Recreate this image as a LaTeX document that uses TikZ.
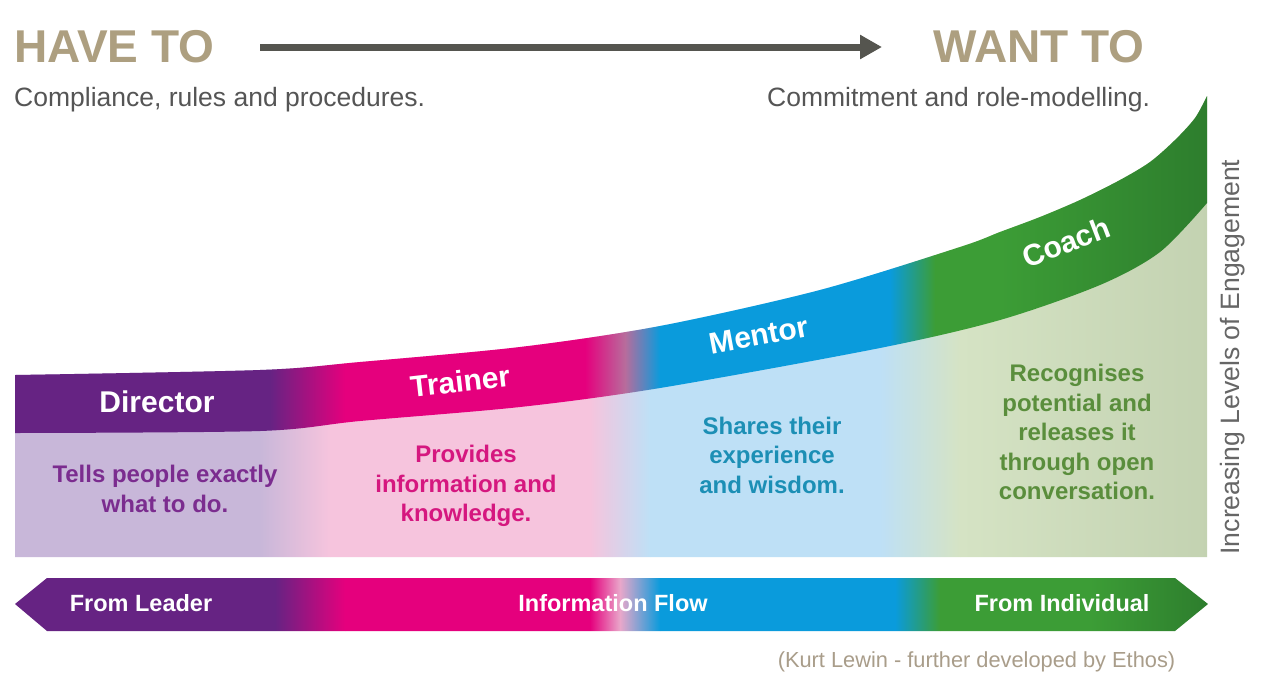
\documentclass[tikz,border=0pt]{standalone}
\usepackage{fontspec}
\setmainfont{Liberation Sans}
\usetikzlibrary{arrows.meta}
\definecolor{cP}{HTML}{662383}
\definecolor{cM}{HTML}{E5007D}
\definecolor{cMB}{HTML}{B86C9C}
\definecolor{cB}{HTML}{0A9BDC}
\definecolor{cG}{HTML}{3C9D36}
\definecolor{cGd}{HTML}{2D7D2D}
\definecolor{cLP}{HTML}{C8B7D9}
\definecolor{cLM}{HTML}{F6C4DD}
\definecolor{cLB}{HTML}{BEE0F6}
\definecolor{cLG}{HTML}{D5E3C4}
\definecolor{cLGd}{HTML}{C3D2B1}
\definecolor{cFP}{HTML}{E9A7CA}
\definecolor{cTan}{HTML}{AD9F80}
\definecolor{cGray}{HTML}{555555}
\definecolor{cArrow}{HTML}{55554F}
\definecolor{cKurt}{HTML}{A99D8A}
\definecolor{cSide}{HTML}{666666}
\definecolor{tP}{HTML}{7B2C8F}
\definecolor{tM}{HTML}{D5177F}
\definecolor{tB}{HTML}{1C8FB5}
\definecolor{tG}{HTML}{5A8E3C}
\tikzset{
  head/.style={font=\bfseries\fontsize{46}{50}\selectfont, text=cTan, inner sep=0, anchor=base west},
  sub/.style={font=\fontsize{26.5}{30}\selectfont, text=cGray, inner sep=0, anchor=base west},
  bandlbl/.style={font=\bfseries\fontsize{30}{34}\selectfont, text=white, inner sep=0},
  desc/.style={font=\bfseries\fontsize{24}{29.5}\selectfont, align=center, inner sep=0},
  flow/.style={font=\bfseries\fontsize{23.5}{26}\selectfont, text=white, inner sep=0},
}
\begin{document}
\begin{tikzpicture}[x=1pt,y=-1pt]
\useasboundingbox (0,0) rectangle (1276,689);
\fill[white] (0,0) rectangle (1276,689);

% headings
\node[head] (have) at (14,62) {HAVE TO};
\node[head] (want) at (933,62) {WANT TO};
\coordinate (ar1) at (260,47);
\coordinate (ar2) at (882,47);
\draw[line width=7pt, color=cArrow, -{Triangle[length=22pt,width=23pt]}] (ar1) -- (ar2);
\node[sub] (comp) at (14,106) {Compliance, rules and procedures.};
\node[sub] (comm) at (767,106) {Commitment and role-modelling.};

% light area
\begin{scope}
\clip plot[smooth,tension=.5] coordinates {(15,375) (260,370) (360,362) (520,347) (660,326) (820,290) (960,247) (1000,232) (1040,217) (1080,200) (1120,180) (1150,162) (1175,140) (1195,118) (1207,96)} -- (1207,557) -- (15,557) -- cycle;
\fill[cLP] (0,80) rectangle (260,560);
\shade[left color=cLP,right color=cLM] (260,80) rectangle (330,560);
\fill[cLM] (330,80) rectangle (590,560);
\shade[left color=cLM,right color=cLB] (590,80) rectangle (650,560);
\fill[cLB] (650,80) rectangle (880,560);
\shade[left color=cLB,right color=cLG] (880,80) rectangle (960,560);
\shade[left color=cLG,right color=cLGd] (960,80) rectangle (1210,560);
\end{scope}

% band
\begin{scope}
\clip plot[smooth,tension=.5] coordinates {(15,375) (260,370) (360,362) (520,347) (660,326) (820,290) (960,247) (1000,232) (1040,217) (1080,200) (1120,180) (1150,162) (1175,140) (1195,118) (1207,96)} -- plot[smooth,tension=.5] coordinates {(1207,203) (1160,252) (1100,285) (1000,320) (880,348) (660,388) (520,407) (360,421) (260,431) (15,433)} -- cycle;
\fill[cP] (0,80) rectangle (270,460);
\shade[left color=cP,right color=cM] (270,80) rectangle (345,460);
\fill[cM] (345,80) rectangle (585,460);
\shade[left color=cM,right color=cMB] (585,80) rectangle (625,460);
\shade[left color=cMB,right color=cB] (625,80) rectangle (660,460);
\fill[cB] (660,80) rectangle (890,460);
\shade[left color=cB,right color=cG] (890,80) rectangle (935,460);
\fill[cG] (935,80) rectangle (1000,460);
\shade[left color=cG,right color=cGd] (1000,80) rectangle (1210,460);
\end{scope}

\node[bandlbl] (director) at (157,402) {Director};
\node[bandlbl,rotate=6.5] (trainer) at (460,381) {Trainer};
\node[bandlbl,rotate=10.5] (mentor) at (759,335) {Mentor};
\node[bandlbl,rotate=21] (coach) at (1066,242) {Coach};

\node[desc,text=tP] (d1) at (165,489) {Tells people exactly\\what to do.};
\node[desc,text=tM] (d2) at (466,486) {Provides\\information and\\knowledge.};
\node[desc,text=tB] (d3) at (772,455) {Shares their\\experience\\and wisdom.};
\node[desc,text=tG] (d4) at (1077,432) {Recognises\\potential and\\releases it\\through open\\conversation.};

% bottom arrow
\begin{scope}
\clip (15,604) -- (47,578) -- (1175,578) -- (1208,604) -- (1175,631) -- (47,631) -- cycle;
\fill[cP] (0,570) rectangle (275,640);
\shade[left color=cP,right color=cM] (275,570) rectangle (345,640);
\fill[cM] (345,570) rectangle (590,640);
\shade[left color=cM,right color=cFP] (590,570) rectangle (620,640);
\shade[left color=cFP,right color=cB] (620,570) rectangle (660,640);
\fill[cB] (660,570) rectangle (895,640);
\shade[left color=cB,right color=cG] (895,570) rectangle (940,640);
\fill[cG] (940,570) rectangle (1090,640);
\shade[left color=cG,right color=cGd] (1090,570) rectangle (1210,640);
\end{scope}
\node[flow] (fl) at (141,603) {From Leader};
\node[flow] (ifl) at (613,603) {Information Flow};
\node[flow] (fi) at (1062,603) {From Individual};

\node[font=\fontsize{21.8}{24}\selectfont, text=cKurt, inner sep=0] (kurt) at (976.5,662) {(Kurt Lewin - further developed by Ethos)};
\node[font=\fontsize{26.6}{30}\selectfont, text=cSide, inner sep=0, rotate=90] (side) at (1233,357) {Increasing Levels of Engagement};
\end{tikzpicture}
\end{document}
